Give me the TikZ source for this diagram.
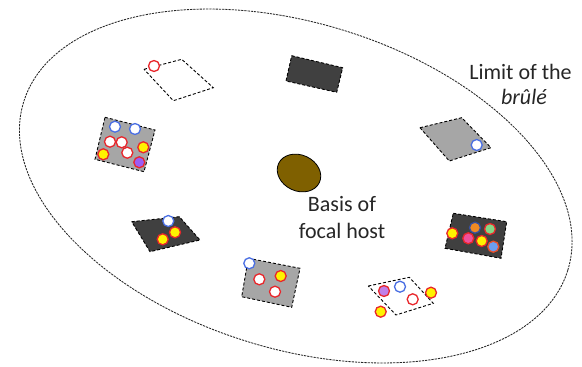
\documentclass[tikz,border=0pt]{standalone}
\usepackage{fontspec}
\setmainfont{Carlito}
\definecolor{darkq}{HTML}{404040}
\definecolor{grayq}{HTML}{A6A6A6}
\definecolor{ringred}{HTML}{E8262B}
\definecolor{ringblue}{HTML}{4A6FE3}
\definecolor{brownb}{HTML}{7F6000}
\definecolor{purp}{HTML}{9B5CF5}
\definecolor{lpurp}{HTML}{C080E8}
\definecolor{orng}{HTML}{F08A24}
\definecolor{grn}{HTML}{86D886}
\definecolor{pnk}{HTML}{F0509B}
\definecolor{lblue}{HTML}{6A9EF0}
\definecolor{yel}{HTML}{FFF200}
\begin{document}
\begin{tikzpicture}[x=1pt,y=1pt,
  quad/.style={draw=black, dash pattern=on 3pt off 2pt, line width=0.9pt},
  dk/.style={quad, fill=darkq},
  gy/.style={quad, fill=grayq},
  wh/.style={quad, fill=white},
  ring/.style={line width=1.3pt},
  rw/.style={ring, draw=ringred, fill=white},
  bw/.style={ring, draw=ringblue, fill=white},
  yl/.style={ring, draw=ringred, fill=yel},
  pu/.style={ring, draw=ringred, fill=purp},
  lp/.style={ring, draw=ringred, fill=lpurp},
  orb/.style={ring, draw=ringblue!70!black, fill=orng},
  gr/.style={ring, draw=ringred, fill=grn},
  pk/.style={ring, draw=ringred, fill=pnk},
  lb/.style={ring, draw=ringred!60!orng, fill=lblue},
  lbl/.style={font=\fontsize{22}{27}\selectfont, inner sep=0pt, anchor=base, text=black!85}
]
\useasboundingbox (0,0) rectangle (582,-367);
\def\rr{5.5pt}
% outer limit
\draw[black!85, dash pattern=on 2.2pt off 1pt, line width=0.85pt, rotate around={-17.2:(295.75,-186)}]
  (295.75,-186) ellipse [x radius=284.8pt, y radius=162.9pt];
% focal host
\draw[fill=brownb, line width=0.8pt, rotate around={-25:(299,-173)}]
  (299,-173) ellipse [x radius=22.5pt, y radius=18pt];
\node[lbl] (basisA) at (342,-211) {Basis of};
\node[lbl] (basisB) at (342,-238) {focal host};
\node[lbl] (limA) at (520.5,-79) {Limit of the};
\node[lbl] (limB) at (524,-104) {\itshape brûlé};
% Q1
\draw[wh] (144,-69.3) -- (181.7,-59.3) -- (213.3,-87.7) -- (173.3,-100.7) -- cycle;
\draw[rw] (154,-66) circle[radius=\rr];
% Q2
\draw[dk] (291.7,-55.7) -- (342.7,-67.7) -- (336.7,-92.3) -- (286,-81) -- cycle;
% Q3
\draw[gy] (420,-127.7) -- (461.7,-117.7) -- (491,-147.7) -- (449.3,-161) -- cycle;
\draw[bw] (476.7,-145) circle[radius=\rr];
% Q4
\draw[gy] (105,-117.3) -- (155,-130) -- (144,-171.7) -- (95,-159.3) -- cycle;
\draw[bw] (115,-126.7) circle[radius=\rr];
\draw[bw] (135,-129) circle[radius=\rr];
\draw[rw] (110,-141.7) circle[radius=\rr];
\draw[rw] (121.7,-142.3) circle[radius=\rr];
\draw[rw] (127.3,-152.7) circle[radius=\rr];
\draw[yl] (143.3,-147.3) circle[radius=\rr];
\draw[yl] (103.3,-154.3) circle[radius=\rr];
\draw[pu] (139.3,-162.3) circle[radius=\rr];
% Q5
\draw[dk] (131.7,-221.7) -- (179.3,-216.7) -- (200,-240) -- (150,-251.7) -- cycle;
\draw[bw] (168.3,-221) circle[radius=\rr];
\draw[yl] (162.7,-239.3) circle[radius=\rr];
\draw[yl] (175,-232.3) circle[radius=\rr];
% Q6
\draw[gy] (248.3,-258.3) -- (300,-268.3) -- (291.7,-307.3) -- (241.7,-296.7) -- cycle;
\draw[bw] (249.3,-263.3) circle[radius=\rr];
\draw[rw] (259.3,-279.3) circle[radius=\rr];
\draw[yl] (280.7,-276) circle[radius=\rr];
\draw[rw] (275,-291.7) circle[radius=\rr];
% Q7
\draw[wh] (368.3,-286) -- (409.3,-277.3) -- (433.3,-303.3) -- (396,-315) -- cycle;
\draw[lp] (384,-291) circle[radius=\rr];
\draw[bw] (400,-286.7) circle[radius=\rr];
\draw[rw] (412.7,-299.3) circle[radius=\rr];
\draw[yl] (431,-292.7) circle[radius=\rr];
\draw[yl] (380.7,-311.7) circle[radius=\rr];
% Q8
\draw[dk] (453.3,-213.3) -- (506.7,-221.7) -- (501,-258.3) -- (445,-248.3) -- cycle;
\draw[yl] (452.3,-233.3) circle[radius=\rr];
\draw[orb] (475,-227.7) circle[radius=\rr];
\draw[gr] (490,-229) circle[radius=\rr];
\draw[pk] (468.3,-238.3) circle[radius=\rr];
\draw[yl] (481.7,-241) circle[radius=\rr];
\draw[lb] (493.3,-246.7) circle[radius=\rr];
\end{tikzpicture}
\end{document}
